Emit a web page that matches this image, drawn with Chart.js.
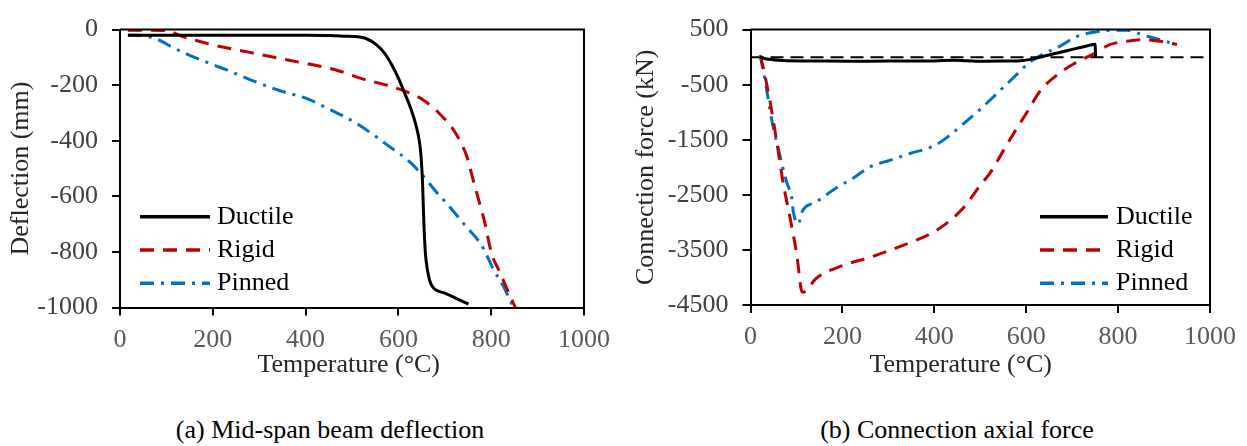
<!DOCTYPE html>
<html>
<head>
<meta charset="utf-8">
<script src="https://cdn.jsdelivr.net/npm/chart.js@4.4.1/dist/chart.umd.min.js"></script>
<style>
  html, body { margin: 0; padding: 0; background: #fff; }
  #wrap { position: relative; width: 1247px; height: 446px; overflow: hidden; font-family: 'Liberation Serif', 'Times New Roman', serif; }
  .panel { position: absolute; top: 0; }
  .caption { position: absolute; top: 414px; font-size: 26px; line-height: 32px; color: #000; transform: translateX(-50%); white-space: nowrap; }
</style>
</head>
<body>
<div id="wrap">
  <div class="panel" style="left:0"><canvas id="deflChart" width="620" height="385"></canvas></div>
  <div class="panel" style="left:620px"><canvas id="forceChart" width="627" height="385"></canvas></div>
  <div class="caption" style="left:330px">(a) Mid-span beam deflection</div>
  <div class="caption" style="left:957px">(b) Connection axial force</div>
</div>
<script>
const FONT = "'Liberation Serif', 'Times New Roman', serif";

// axis ranges [min, max, step]
const tempAxis = [0, 1000, 200];
const deflAxis = [-1000, 0, 200];
const forceAxis = [-4500, 500, 1000];

// (a) mid-span deflection, [temperature, mm]
const deflDuctile = [[17,-20],[100,-20],[200,-20],[300,-20],[400,-20],[455,-21],[480,-24],[505,-25],[530,-32],[553,-55],
  [570,-85],[585,-125],[600,-175],[615,-235],[628,-290],[638,-345],[645,-400],[649,-460],[652,-550],[655,-700],
  [658,-800],[662,-860],[672,-922],[700,-948],[730,-972],[751,-988]];
const deflRigid = [[17,-2],[100,-3],[130,-22],[200,-55],[280,-82],[370,-112],[440,-135],[474,-150],[524,-178],[575,-200],
  [618,-224],[640,-240],[661,-262],[680,-288],[697,-317],[712,-345],[726,-380],[737,-415],[747,-454],[761,-540],
  [776,-631],[787,-700],[797,-780],[806,-830],[815,-860],[833,-929],[851,-997],[853,-1005]];
const deflPinned = [[17,-20],[36,-20],[65,-27],[90,-42],[108,-59],[144,-88],[194,-122],[230,-145],[280,-180],[345,-220],
  [402,-248],[453,-288],[481,-311],[517,-345],[575,-414],[625,-477],[654,-528],[682,-585],[704,-625],[747,-711],
  [776,-768],[790,-810],[804,-860],[826,-923],[848,-1000]];

// (b) connection axial force, [temperature, kN]
const forceDuctile = [[20,0],[40,-40],[70,-60],[150,-70],[216,-75],[300,-72],[400,-70],[440,-55],[460,-60],[490,-75],
  [550,-72],[594,-60],[620,-20],[637,15],[660,60],[688,115],[720,180],[746,230],[750,235],[751,0]];
const forceRigid = [[21,28],[28,-204],[42,-780],[57,-1529],[71,-2280],[86,-2913],[101,-3606],[111,-4240],[114,-4270],[144,-4010],
  [202,-3779],[260,-3635],[318,-3462],[362,-3318],[405,-3145],[463,-2740],[499,-2337],[521,-2107],[550,-1702],[579,-1299],
  [601,-1010],[630,-620],[666,-330],[710,-90],[746,55],[782,228],[819,287],[855,315],[891,287],[928,228]];
const forcePinned = [[21,38],[32,-434],[46,-1126],[60,-1645],[79,-2280],[90,-2567],[93,-2799],[104,-3029],[111,-2827],[144,-2626],
  [188,-2367],[224,-2194],[260,-1991],[303,-1875],[347,-1749],[398,-1616],[430,-1443],[463,-1213],[499,-953],[514,-837],
  [550,-550],[579,-318],[608,-88],[637,55],[674,201],[710,374],[753,460],[782,488],[819,488],[855,401],[891,315],[928,228]];
const forceZero = [[0,0],[1000,0]];

const styles = {
  Ductile: { color: '#000000', dash: [] },
  Rigid: { color: '#C00000', dash: [14, 9] },
  Pinned: { color: '#0070C0', dash: [14, 7, 3, 7] }
};

function series(label, pts) {
  const st = styles[label];
  return {
    label: label,
    data: pts.map(p => ({ x: p[0], y: p[1] })),
    borderColor: st.color,
    borderWidth: 3,
    borderDash: st.dash,
    pointRadius: 0,
    showLine: true,
    fill: false,
    cubicInterpolationMode: 'monotone'
  };
}

// top and right border of the plot box
const framePlugin = {
  id: 'frame',
  afterDatasetsDraw(chart) {
    const { ctx, chartArea: a } = chart;
    ctx.save();
    ctx.strokeStyle = '#000';
    ctx.lineWidth = 2;
    ctx.beginPath();
    ctx.moveTo(a.left, a.top);
    ctx.lineTo(a.right, a.top);
    ctx.lineTo(a.right, a.bottom);
    ctx.stroke();
    ctx.restore();
  }
};

// legend drawn inside the plot with line samples
const lineLegend = {
  id: 'lineLegend',
  afterDraw(chart, args, opts) {
    const { ctx, chartArea } = chart;
    let y = chartArea.bottom + opts.top;
    chart.data.datasets.forEach(ds => {
      if (!ds.label) return;
      const x0 = chartArea.left + opts.left;
      ctx.save();
      ctx.strokeStyle = ds.borderColor;
      ctx.lineWidth = opts.lineWidth;
      ctx.setLineDash(ds.borderDash || []);
      ctx.beginPath();
      ctx.moveTo(x0, y);
      ctx.lineTo(x0 + opts.length, y);
      ctx.stroke();
      ctx.setLineDash([]);
      ctx.fillStyle = '#000';
      ctx.font = '26px ' + FONT;
      ctx.textBaseline = 'middle';
      ctx.fillText(ds.label, x0 + opts.length + opts.gap, y);
      ctx.restore();
      y += opts.rowHeight;
    });
  }
};

function buildChart(id, datasets, yAxis, yTitle, cfg) {
  const tickFont = { family: FONT, size: 26 };
  return new Chart(document.getElementById(id), {
    type: 'scatter',
    data: { datasets: datasets },
    options: {
      responsive: false,
      animation: false,
      layout: { padding: cfg.padding },
      plugins: {
        legend: { display: false },
        tooltip: { enabled: false },
        lineLegend: cfg.legend
      },
      scales: {
        x: {
          type: 'linear',
          min: tempAxis[0],
          max: tempAxis[1],
          ticks: {
            stepSize: tempAxis[2],
            autoSkip: false,
            maxRotation: 0,
            padding: 9,
            color: '#595959',
            font: tickFont,
            callback: v => String(v)
          },
          grid: { drawOnChartArea: false, drawTicks: true, tickLength: 8, lineWidth: 2, tickColor: '#000' },
          border: { display: true, color: '#000', width: 2 },
          title: { display: true, text: cfg.xTitle, color: '#262626', font: tickFont, padding: { top: 4, bottom: 4 } },
          afterFit: s => { s.height = cfg.xHeight; }
        },
        y: {
          type: 'linear',
          min: yAxis[0],
          max: yAxis[1],
          ticks: {
            stepSize: yAxis[2],
            autoSkip: false,
            padding: 14,
            color: '#404040',
            font: tickFont,
            callback: v => String(v)
          },
          grid: { drawOnChartArea: false, drawTicks: true, tickLength: 8, lineWidth: 2, tickColor: '#000' },
          border: { display: true, color: '#000', width: 2 },
          title: { display: true, text: yTitle, color: '#262626', font: tickFont, padding: { top: 4, bottom: 4 } },
          afterFit: s => { s.width = cfg.yWidth; }
        }
      }
    },
    plugins: [framePlugin, lineLegend]
  });
}

buildChart('deflChart', [
  series('Ductile', deflDuctile),
  series('Rigid', deflRigid),
  series('Pinned', deflPinned)
], deflAxis, 'Deflection (mm)', {
  padding: { left: 2, top: 16, right: 36, bottom: 0 },
  yWidth: 118,
  xHeight: 77.5,
  xTitle: 'Temperature (°C)\u00a0',
  legend: { left: 20, top: -90.8, length: 70, gap: 7, rowHeight: 33.3, lineWidth: 3.5 }
});

const zeroLine = {
  label: '',
  data: forceZero.map(p => ({ x: p[0], y: p[1] })),
  borderColor: '#000',
  borderWidth: 2,
  borderDash: [13, 7],
  pointRadius: 0,
  showLine: true,
  fill: false
};

buildChart('forceChart', [
  series('Ductile', forceDuctile),
  series('Rigid', forceRigid),
  series('Pinned', forcePinned),
  zeroLine
], forceAxis, 'Connection force (kN)', {
  padding: { left: 7, top: 16, right: 37, bottom: 0 },
  yWidth: 123.5,
  xHeight: 80,
  // trailing spaces pull the centred title left, as in the source figure
  xTitle: 'Temperature (°C)' + '\u00a0'.repeat(6),
  legend: { left: 289.5, top: -88.3, length: 68, gap: 8, rowHeight: 33.3, lineWidth: 3.5 }
});
</script>
</body>
</html>
